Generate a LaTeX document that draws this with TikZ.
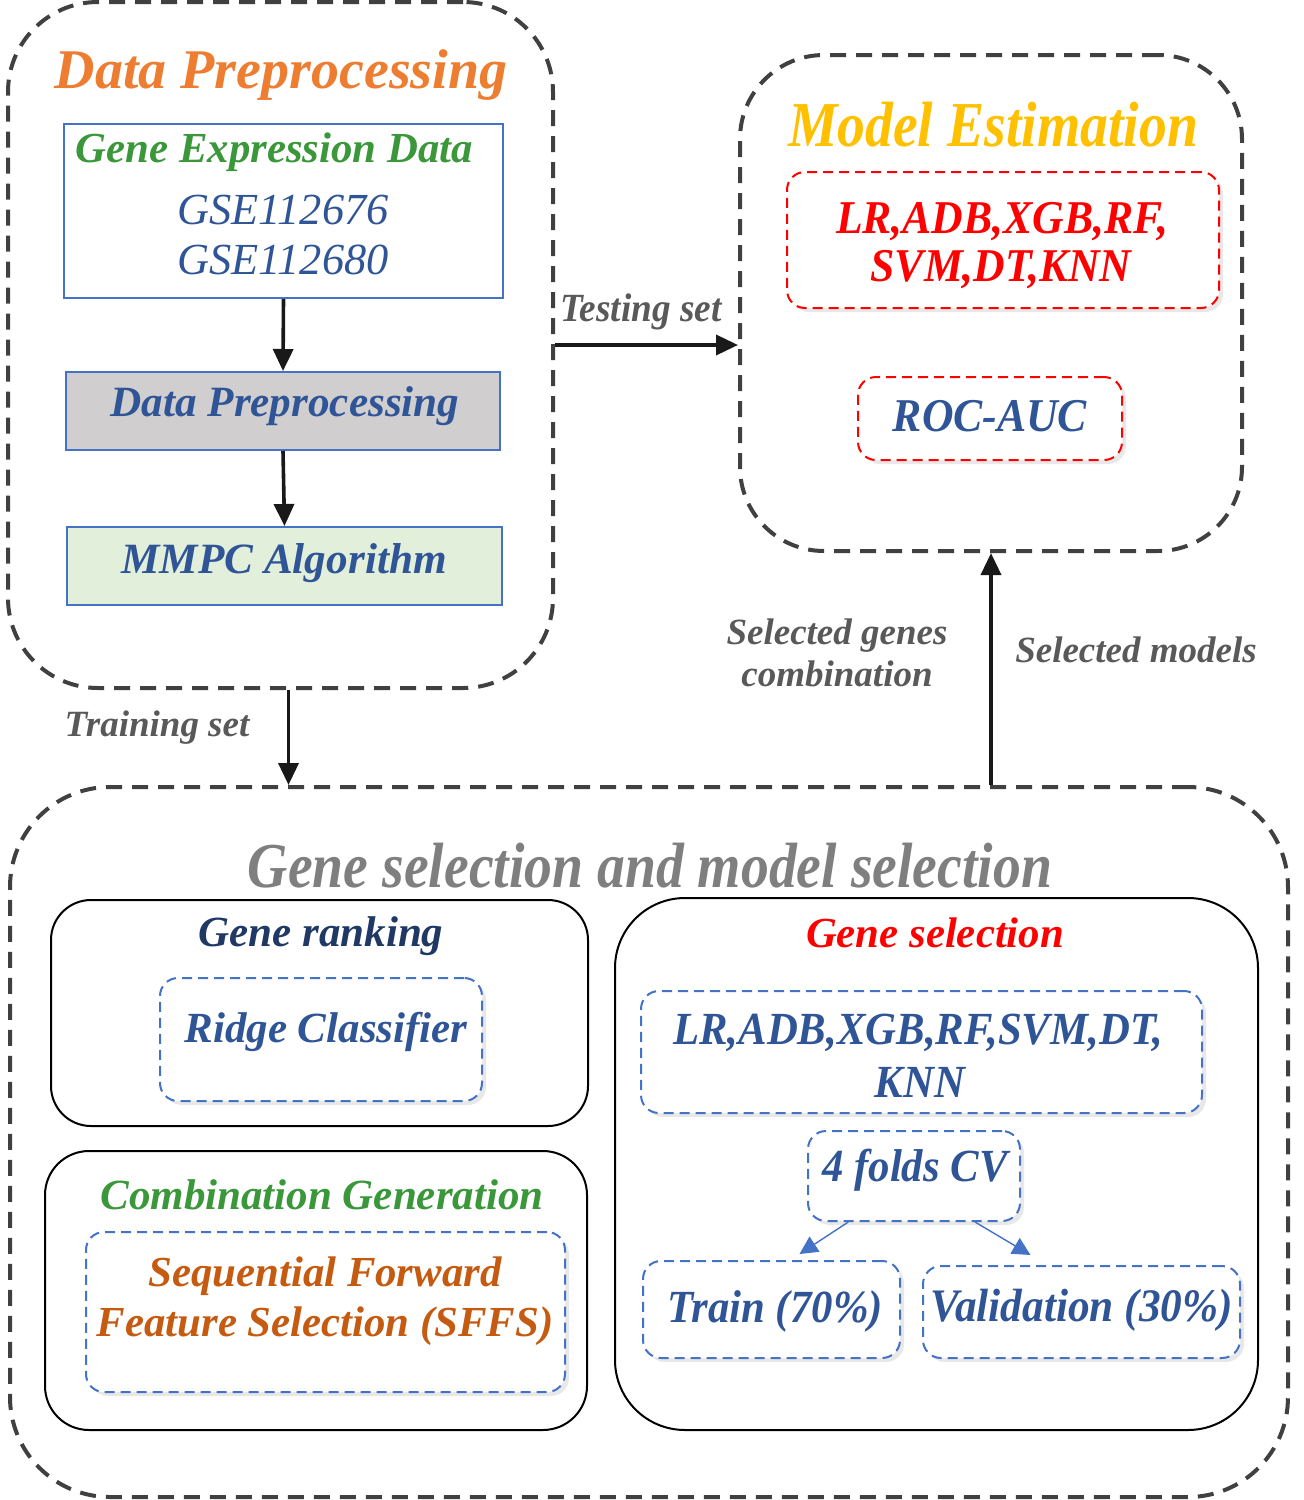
\documentclass[tikz,border=0pt]{standalone}
\usepackage{fontspec}
\setmainfont{Liberation Serif}
\newfontfamily\cond[FakeStretch=0.93]{Liberation Serif}
\newfontfamily\condT[FakeStretch=0.87]{Liberation Serif}
\usetikzlibrary{arrows.meta,shadows}
\definecolor{dgray}{HTML}{404040}
\definecolor{tgray}{HTML}{595959}
\definecolor{ttgray}{HTML}{7F7F7F}
\definecolor{borange}{HTML}{ED7D31}
\definecolor{sorange}{HTML}{C55A11}
\definecolor{gold}{HTML}{FFC000}
\definecolor{ggreen}{HTML}{3A973A}
\definecolor{tblue}{HTML}{2F5597}
\definecolor{lblue}{HTML}{4472C4}
\definecolor{navy}{HTML}{1F3864}
\definecolor{boxgray}{HTML}{D0CECE}
\definecolor{boxgreen}{HTML}{E2EFDA}
\definecolor{rred}{HTML}{FF0000}
\newcommand{\fs}[1]{\fontsize{#1}{#1}\selectfont}
\tikzset{
  outer/.style={draw=dgray, line width=2pt, dash pattern=on 8pt off 5pt, rectangle, inner sep=0pt},
  solidbox/.style={draw=lblue, line width=1pt, rectangle, inner sep=0pt},
  blackbox/.style={draw=black, line width=1pt, rectangle, inner sep=0pt, fill=white},
  dbox/.style={draw=lblue, line width=1pt, dash pattern=on 5pt off 3pt, rectangle, rounded corners=9pt, inner sep=0pt, fill=white,
     drop shadow={opacity=0.18, shadow xshift=2pt, shadow yshift=-2pt}},
  rbox/.style={dbox, draw=rred},
  txt/.style={inner sep=0pt, align=center, font=\bfseries\itshape},
  arr/.style={-{Triangle[length=11pt,width=10pt]}, line width=1.8pt, black!90},
  barr/.style={-{Triangle[length=9pt,width=9pt]}, line width=0.7pt, lblue},
}
\begin{document}
\begin{tikzpicture}[x=0.5pt,y=-0.5pt]
\useasboundingbox (0,0) rectangle (1304,1500);
% outer dashed frames
\node[outer, rounded corners=45pt, minimum width=272.5pt, minimum height=343pt] (dpo) at (280.5,345) {};
\node[outer, rounded corners=42pt, minimum width=251pt, minimum height=248pt] (me) at (991,303) {};
\node[outer, rounded corners=50pt, minimum width=639pt, minimum height=355pt] (gsm) at (649,1142) {};
% Data preprocessing block
\node[txt, text=borange, font=\bfseries\itshape\fs{28}] (t1) at (281,75) {Data Preprocessing};
\node[solidbox, minimum width=219.5pt, minimum height=87pt] (ged) at (283.5,211) {};
\node[txt, text=ggreen, font=\bfseries\itshape\fs{21.4}] (gedt) at (274.5,152) {Gene Expression Data};
\node[txt, text=tblue, font=\itshape\fs{22.2}] (gse1) at (283,210) {GSE112676};
\node[txt, text=tblue, font=\itshape\fs{22.2}] (gse2) at (283,260) {GSE112680};
\node[solidbox, fill=boxgray, minimum width=217pt, minimum height=39pt] (dp) at (283,411) {};
\node[txt, text=tblue, font=\bfseries\itshape\fs{21.6}] at (285,406) {Data Preprocessing};
\node[solidbox, fill=boxgreen, minimum width=217.5pt, minimum height=39pt] (mmpc) at (284.5,566) {};
\node[txt, text=tblue, font=\bfseries\itshape\fs{21.6}] at (284,563) {MMPC Algorithm};
\draw[arr] (ged.south) -- (dp.north);
\draw[arr] (dp.south) -- (mmpc.north);
% Model estimation block
\node[txt, text=gold, font=\bfseries\itshape\condT\fs{32}] (t2) at (993,125) {Model Estimation};
\node[rbox, minimum width=216pt, minimum height=68pt] (mlist) at (1003,240) {};
\node[txt, text=rred, font=\bfseries\itshape\cond\fs{23.5}] at (1002,222) {LR,ADB,XGB,RF,};
\node[txt, text=rred, font=\bfseries\itshape\cond\fs{23.5}] at (1001,270) {SVM,DT,KNN};
\node[rbox, minimum width=132pt, minimum height=41.5pt] (roc) at (990,418.5) {};
\node[txt, text=tblue, font=\bfseries\itshape\cond\fs{23.5}] at (990,416) {ROC-AUC};
% connectors between blocks
\draw[arr] (dpo.east) -- (dpo.east -| me.west);
\node[txt, text=tgray, font=\bfseries\itshape\cond\fs{20}] at (641,312) {Testing set};
\draw[arr] ([xshift=4pt]dpo.south) -- ([xshift=4pt]dpo.south |- gsm.north);
\node[txt, text=tgray, font=\bfseries\itshape\fs{18.5}] at (157,728) {Training set};
\draw[arr] (me.south |- gsm.north) -- (me.south);
\node[txt, text=tgray, font=\bfseries\itshape\fs{18.5}] at (837,653) {Selected genes\\[2.5pt]combination};
\node[txt, text=tgray, font=\bfseries\itshape\fs{18.5}] at (1136,650) {Selected models};
% bottom block
\node[txt, text=ttgray, font=\bfseries\itshape\condT\fs{32}] (t3) at (650,866) {Gene selection and model selection};
\node[blackbox, rounded corners=20pt, minimum width=268.5pt, minimum height=113pt] (rank) at (319.5,1013) {};
\node[txt, text=navy, font=\bfseries\itshape\fs{21.5}] at (321,936) {Gene ranking};
\node[dbox, minimum width=161pt, minimum height=61.5pt] (ridge) at (321,1039.5) {};
\node[txt, text=tblue, font=\bfseries\itshape\fs{21.5}] at (326,1032) {Ridge Classifier};
\node[blackbox, rounded corners=22pt, minimum width=271pt, minimum height=139.5pt] (comb) at (316,1290.5) {};
\node[txt, text=ggreen, font=\bfseries\itshape\fs{21.5}] at (322,1195) {Combination Generation};
\node[dbox, minimum width=239.5pt, minimum height=80pt] (sffs) at (325.5,1312) {};
\node[txt, text=sorange, font=\bfseries\itshape\fs{21.4}] at (325,1276) {Sequential Forward};
\node[txt, text=sorange, font=\bfseries\itshape\fs{21.4}] at (325,1326) {Feature Selection (SFFS)};
\node[blackbox, rounded corners=35pt, minimum width=321.5pt, minimum height=266pt] (gsel) at (936.5,1164) {};
\node[txt, text=rred, font=\bfseries\itshape\fs{21.4}] at (935,933) {Gene selection};
\node[dbox, minimum width=280.5pt, minimum height=61pt] (glist) at (921.5,1052) {};
\node[txt, text=tblue, font=\bfseries\itshape\cond\fs{23}] at (918,1033) {LR,ADB,XGB,RF,SVM,DT,};
\node[txt, text=tblue, font=\bfseries\itshape\cond\fs{23}] at (920,1082) {KNN};
\node[dbox, minimum width=106pt, minimum height=45pt] (cv) at (914,1176) {};
\node[txt, text=tblue, font=\bfseries\itshape\cond\fs{23}] at (915,1170) {4 folds CV};
\node[dbox, minimum width=128.5pt, minimum height=48.5pt] (train) at (771.5,1309.5) {};
\node[txt, text=tblue, font=\bfseries\itshape\cond\fs{23}] at (775,1311) {Train (70\%)};
\node[dbox, minimum width=158.5pt, minimum height=46pt] (valid) at (1081.5,1312) {};
\node[txt, text=tblue, font=\bfseries\itshape\cond\fs{23.3}] at (1082,1310) {Validation (30\%)};
\draw[barr] (cv.215) -- ([xshift=14pt,yshift=3pt]train.north);
\draw[barr] (cv.323) -- ([xshift=-25.5pt,yshift=5pt]valid.north);
\end{tikzpicture}
\end{document}
